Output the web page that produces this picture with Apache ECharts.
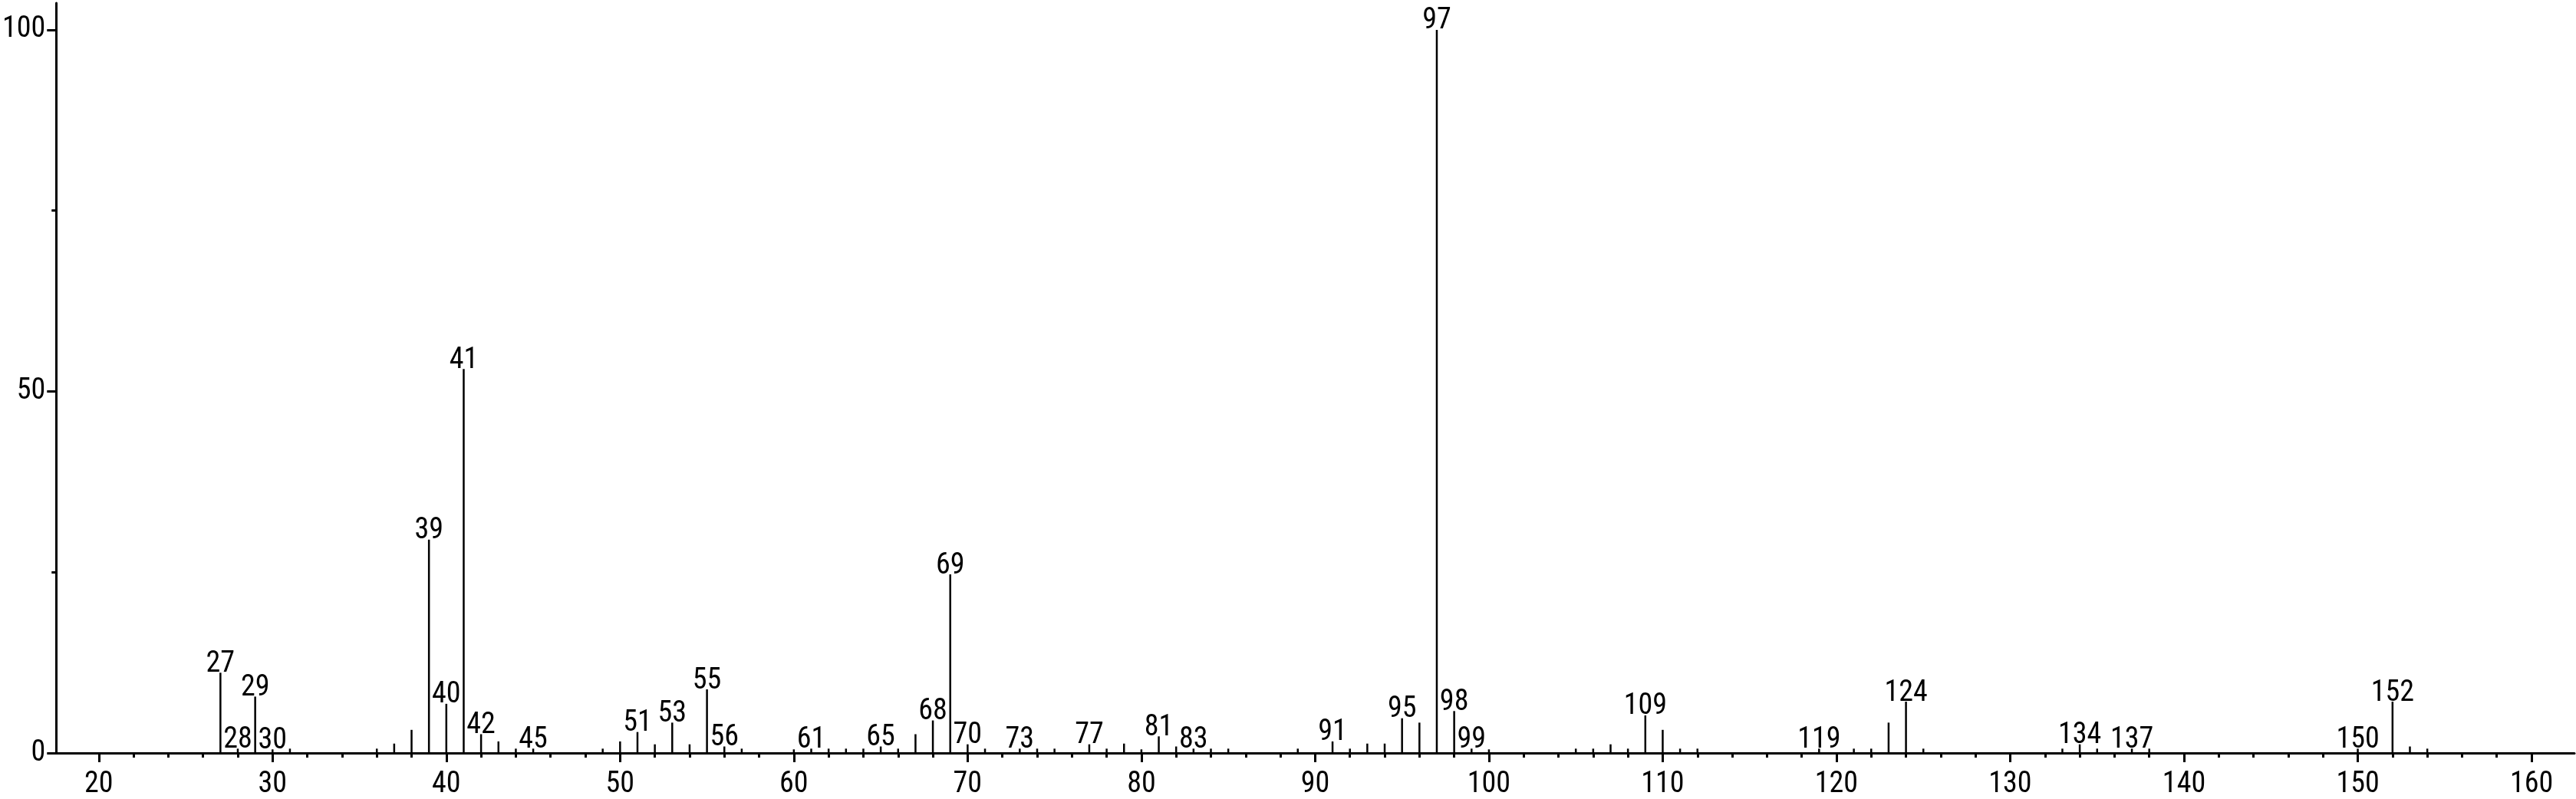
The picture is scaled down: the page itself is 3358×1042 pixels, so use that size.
<!DOCTYPE html>
<html>
<head>
<meta charset="utf-8">
<style>
html, body { margin: 0; padding: 0; background: #fff; }
#chart { width: 3358px; height: 1042px; }
</style>
<script src="https://cdn.jsdelivr.net/npm/echarts@6/dist/echarts.min.js"></script>
</head>
<body>
<div id="chart"></div>
<script>
// m/z of each peak and its relative intensity (%)
const mz = [27, 28, 29, 30, 31, 36, 37, 38, 39, 40, 41, 42, 43, 44, 45, 49, 50, 51, 52, 53,
  54, 55, 56, 57, 60, 61, 62, 63, 64, 65, 66, 67, 68, 69, 70, 71, 73, 74, 75, 77,
  78, 79, 80, 81, 82, 83, 84, 85, 89, 91, 92, 93, 94, 95, 96, 97, 98, 99, 100, 105,
  106, 107, 108, 109, 110, 111, 112, 119, 121, 122, 123, 124, 125, 133, 134, 135, 137, 138, 150, 152,
  153, 154];
const intensity = [11.1, 0.6, 7.8, 0.5, 0.6, 0.6, 1.3, 3.2, 29.5, 6.8, 53.1, 2.6, 1.6, 0.6, 0.6, 0.6, 1.6, 2.9, 1.2, 4.2,
  1.2, 8.8, 0.9, 0.6, 0.5, 0.6, 0.6, 0.6, 0.6, 0.9, 0.6, 2.6, 4.5, 24.7, 1.2, 0.6, 0.6, 0.6, 0.6, 1.2,
  0.6, 1.3, 0.5, 2.3, 0.9, 0.6, 0.6, 0.6, 0.6, 1.6, 0.6, 1.3, 1.3, 4.8, 4.2, 100, 5.8, 0.6, 0.5, 0.6,
  0.6, 1.2, 0.6, 5.2, 3.2, 0.6, 0.6, 0.6, 0.6, 0.6, 4.2, 7.1, 0.6, 0.6, 1.2, 0.6, 0.6, 0.6, 0.6, 7.1,
  0.9, 0.6];
// peaks that carry an m/z label
const labeled = [27, 28, 29, 30, 39, 40, 41, 42, 45, 51, 53, 55, 56, 61, 65, 68, 69, 70, 73, 77,
  81, 83, 91, 95, 97, 98, 99, 109, 119, 124, 134, 137, 150, 152];

const xTickLabels = [20, 30, 40, 50, 60, 70, 80, 90, 100, 110, 120, 130, 140, 150, 160];
const xMinorTicks = [22, 24, 26, 28, 32, 34, 36, 38, 42, 44, 46, 48, 52, 54, 56, 58, 62, 64, 66, 68,
  72, 74, 76, 78, 82, 84, 86, 88, 92, 94, 96, 98, 102, 104, 106, 108, 112, 114, 116, 118,
  122, 124, 126, 128, 132, 134, 136, 138, 142, 144, 146, 148, 152, 154, 156, 158];
const yTickLabels = [0, 50, 100];
const yMinorTicks = [25, 75];

const font = '"Roboto Condensed", "Liberation Sans", Arial, sans-serif';
const peaks = mz.map((m, i) => [m, intensity[i]]);

const xRange = { min: 17.55, max: 162.47 };
const yRange = { min: 0, max: 103.7 };

let option = {
  animation: false,
  backgroundColor: "#fff",
  grid: { left: 69, right: 2, top: 4, bottom: 53 },
  xAxis: [
    {
      type: "value",
      min: xRange.min,
      max: xRange.max,
      splitLine: { show: false },
      axisLine: { onZero: false, lineStyle: { color: "#000", width: 3 } },
      axisTick: { customValues: xTickLabels, length: 12, lineStyle: { color: "#000", width: 3 } },
      axisLabel: {
        customValues: xTickLabels,
        margin: 22,
        color: "#000",
        fontSize: 38,
        fontFamily: font
      }
    },
    {
      // minor ticks only
      type: "value",
      position: "bottom",
      min: xRange.min,
      max: xRange.max,
      splitLine: { show: false },
      axisLine: { show: false },
      axisTick: { customValues: xMinorTicks, length: 6, lineStyle: { color: "#000", width: 3 } },
      axisLabel: { show: false }
    }
  ],
  yAxis: [
    {
      type: "value",
      min: yRange.min,
      max: yRange.max,
      splitLine: { show: false },
      axisLine: { lineStyle: { color: "#000", width: 3 } },
      axisTick: { customValues: yTickLabels, length: 12, lineStyle: { color: "#000", width: 3 } },
      axisLabel: {
        customValues: yTickLabels,
        margin: 14,
        color: "#000",
        fontSize: 38,
        fontFamily: font
      }
    },
    {
      type: "value",
      position: "left",
      min: yRange.min,
      max: yRange.max,
      splitLine: { show: false },
      axisLine: { show: false },
      axisTick: { customValues: yMinorTicks, length: 6, lineStyle: { color: "#000", width: 3 } },
      axisLabel: { show: false }
    }
  ],
  series: [
    {
      type: "custom",
      xAxisIndex: 0,
      yAxisIndex: 0,
      clip: false,
      data: peaks,
      renderItem: function (params, api) {
        let m = api.value(0);
        let base = api.coord([m, 0]);
        let top = api.coord([m, api.value(1)]);
        let children = [
          {
            type: "line",
            shape: { x1: base[0], y1: base[1], x2: top[0], y2: top[1] },
            style: { stroke: "#000", lineWidth: 2.5 }
          }
        ];
        if (labeled.indexOf(m) >= 0) {
          children.push({
            type: "text",
            x: top[0],
            y: top[1] + 8,
            style: {
              text: String(m),
              align: "center",
              verticalAlign: "bottom",
              fontSize: 38,
              fontFamily: font,
              fill: "#000"
            }
          });
        }
        return { type: "group", children: children };
      }
    }
  ]
};

let chart = echarts.init(document.getElementById("chart"));
chart.setOption(option);
</script>
</body>
</html>
